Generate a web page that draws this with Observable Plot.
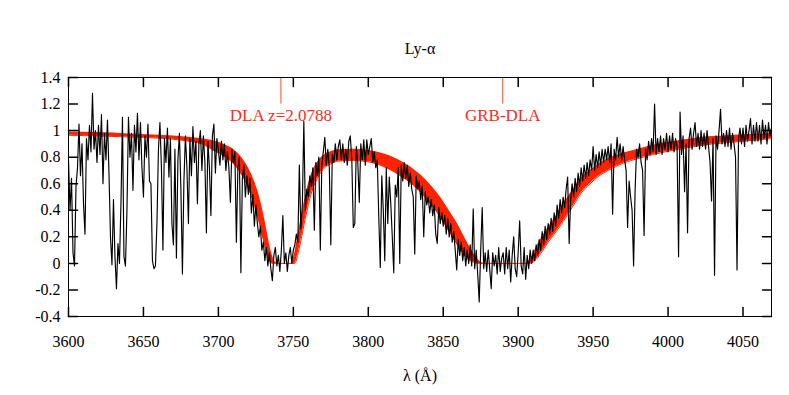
<!DOCTYPE html>
<html><head><meta charset="utf-8">
<script src="https://cdn.jsdelivr.net/npm/d3@7"></script>
<script src="https://cdn.jsdelivr.net/npm/@observablehq/plot@0.6"></script>
<style>html,body{margin:0;padding:0;background:#fff}svg{display:block}svg text{font-family:"Liberation Serif",serif !important}</style>
</head><body><div id="chart"></div>
<script>
// Spectrum: normalised flux sampled every 1 Å starting at 3600 Å
const lambdaStart = 3600;
const lambdaStep = 1;
const flux = [
0.78,0.40,0.64,0.08,-0.02,0.58,0.72,1.05,0.66,0.90,
0.45,0.22,0.94,0.78,1.04,0.84,1.28,0.86,1.00,0.76,
1.04,0.82,1.12,0.60,0.98,0.78,1.08,0.68,0.20,-0.01,
0.48,0.05,-0.19,0.15,0.00,0.45,1.10,0.05,-0.02,0.40,
1.10,0.80,0.98,0.55,1.04,0.84,1.13,0.78,1.06,0.72,
0.50,0.96,0.80,1.05,0.62,0.60,0.02,-0.04,-0.02,0.30,
0.86,1.06,0.72,0.10,0.94,0.76,1.02,0.65,0.94,0.30,
0.14,0.86,0.04,0.78,0.98,0.55,-0.08,0.62,0.96,0.72,
0.30,0.94,0.66,1.03,0.76,0.92,0.45,0.90,1.00,0.70,
0.96,0.76,0.23,0.92,0.72,0.36,0.96,1.05,0.68,0.94,
0.85,0.74,0.92,0.78,0.90,0.70,0.84,0.72,0.46,0.86,
0.76,0.84,0.16,0.72,0.80,-0.07,0.64,0.74,0.50,0.66,
0.52,0.64,0.38,0.52,0.28,0.44,0.30,0.20,0.28,0.10,
0.16,0.02,0.12,-0.02,0.08,-0.04,-0.13,0.06,0.12,-0.02,
0.06,-0.06,0.10,0.36,0.00,0.08,-0.06,0.06,0.12,0.00,
0.10,0.14,0.22,0.16,0.74,0.26,0.44,1.07,0.40,0.56,
0.50,0.66,0.58,0.72,0.25,0.76,0.66,0.80,0.10,0.74,
0.84,0.95,0.74,0.86,0.72,0.14,0.82,0.76,0.90,0.78,
0.88,0.93,0.78,0.90,0.76,0.86,0.74,0.92,0.96,0.78,
0.27,0.30,0.88,0.76,0.46,0.90,0.78,0.93,0.74,0.93,
0.82,0.88,0.94,0.76,0.84,0.72,0.78,0.35,-0.03,0.66,
0.40,0.02,0.72,0.30,0.65,0.45,0.20,-0.07,0.59,0.50,
0.72,0.00,0.74,0.62,0.76,0.64,0.74,0.58,0.68,0.56,
0.50,0.07,0.66,0.56,0.62,0.48,0.58,0.20,0.54,0.44,
0.50,0.38,0.48,0.36,0.44,0.22,0.15,0.42,0.30,0.38,
0.28,0.36,0.22,0.34,0.20,0.30,0.16,0.24,0.10,-0.05,
0.18,0.06,0.16,0.02,0.12,-0.02,0.10,0.00,0.14,-0.02,
0.41,-0.04,0.10,-0.08,-0.29,0.10,0.42,-0.04,0.08,-0.06,
0.10,-0.04,-0.19,0.08,-0.02,0.06,-0.08,0.12,-0.06,0.04,
0.08,-0.08,0.12,-0.04,0.10,-0.14,0.06,0.20,-0.04,-0.10,
0.08,0.32,-0.02,-0.08,0.12,-0.12,0.06,-0.04,0.10,0.00,
0.10,0.02,0.14,0.06,0.18,0.10,0.24,0.14,0.28,0.18,
0.30,0.22,0.34,0.24,0.38,0.28,0.44,0.34,0.48,0.38,
0.50,0.42,0.56,0.65,0.15,0.48,0.60,0.50,0.64,0.54,
0.68,0.58,0.72,0.62,0.74,0.64,0.76,0.66,0.78,0.70,
0.88,0.70,0.82,0.72,0.84,0.74,0.86,0.76,0.86,0.78,
0.88,0.76,0.90,0.37,0.86,0.78,0.95,0.80,0.90,0.78,
0.88,0.78,0.70,0.27,0.62,0.50,0.40,-0.02,0.55,0.86,
0.80,0.90,0.76,0.70,0.21,0.86,0.78,0.92,0.82,0.94,
0.84,1.20,0.82,0.94,0.84,0.96,0.82,0.94,0.86,0.98,
0.84,0.96,0.86,0.98,0.84,0.94,0.88,0.05,1.14,0.82,
0.96,0.54,0.90,0.23,0.94,1.02,0.86,0.98,1.06,0.88,
0.98,0.86,1.00,0.88,0.98,0.86,1.00,0.88,0.76,0.47,
0.94,-0.09,0.96,0.86,1.00,1.16,0.90,0.98,0.88,1.00,
0.88,1.02,0.86,0.98,0.90,0.80,-0.05,0.94,1.02,0.90,
1.02,0.88,1.04,0.92,1.00,1.09,0.90,1.04,0.92,1.06,
0.92,1.04,0.90,1.08,0.94,1.04,0.90,1.06,0.96,1.02
];

// Model band (two DLA fits): upper and lower envelopes
const bandLambda = [3600,3620,3640,3660,3680,3690,3696,3705,3711,3716,3720,3724,3727,3730,3732,3734,3736,3738,3740,3745,3749,3751,3753,3755,3758,3762,3766,3770,3775,3780,3790,3800,3810,3820,3830,3840,3848,3855,3860,3865,3870,3874,3878,3890,3905,3908,3912,3916,3920,3926,3932,3937,3942,3948,3954,3960,3970,3980,3990,4000,4010,4020,4030,4040,4050,4060,4069];
const bandHigh = [0.99,0.985,0.975,0.965,0.95,0.937,0.925,0.89,0.85,0.79,0.72,0.62,0.52,0.38,0.27,0.15,0.06,0.01,0,0,0,0.08,0.21,0.33,0.50,0.67,0.76,0.81,0.84,0.855,0.86,0.85,0.825,0.78,0.71,0.61,0.50,0.38,0.29,0.18,0.08,0.02,0,0,0,0.03,0.12,0.20,0.27,0.37,0.48,0.56,0.64,0.70,0.75,0.79,0.83,0.86,0.89,0.91,0.93,0.945,0.955,0.962,0.968,0.973,0.978];
const bandLow = [0.965,0.96,0.952,0.943,0.92,0.895,0.855,0.80,0.74,0.66,0.57,0.44,0.32,0.18,0.09,0.02,0,0,0,0,0,0,0.07,0.17,0.34,0.53,0.64,0.71,0.75,0.77,0.775,0.765,0.73,0.67,0.59,0.47,0.35,0.22,0.13,0.05,0.01,0,0,0,0,0,0.03,0.09,0.16,0.25,0.35,0.44,0.53,0.60,0.66,0.70,0.755,0.79,0.82,0.845,0.865,0.885,0.90,0.91,0.92,0.93,0.94];

// Absorber markers
const markerLambda = [3741.7, 3889.7];
const markerLabels = ["DLA z=2.0788", "GRB-DLA"];
const markerTop = 1.4;
const markerBottom = 1.2;
const markerLabelY = 1.11;

// Axes
const xDomain = [3600, 4069];
const yDomain = [-0.4, 1.4];
const xTicks = [3600,3650,3700,3750,3800,3850,3900,3950,4000,4050];
const yTicks = [-0.4,-0.2,0,0.2,0.4,0.6,0.8,1,1.2,1.4];
const titleText = "Ly-α";
const xLabelText = "λ (Å)";

const spectrum = flux.map((f, i) => ({lambda: lambdaStart + i * lambdaStep, flux: f}));
const band = bandLambda.map((l, i) => ({lambda: l, hi: bandHigh[i], lo: bandLow[i]}));
const markers = markerLambda.map((l, i) => ({lambda: l, label: markerLabels[i]}));

const tickShape = {draw(ctx, l) { ctx.moveTo(0, 0); ctx.lineTo(0, -l); }};
const RED = "#ff2200";
const FONT = "Liberation Serif";

const chart = Plot.plot({
  width: 789,
  height: 395,
  marginLeft: 68,
  marginRight: 18,
  marginTop: 77,
  marginBottom: 79,
  style: {fontFamily: FONT, fontSize: "16px", background: "#fff", color: "#000"},
  x: {domain: xDomain},
  y: {domain: yDomain},
  marks: [
    Plot.areaY(band, {x: "lambda", y1: "lo", y2: "hi", fill: RED, curve: "monotone-x"}),
    Plot.line(band, {x: "lambda", y: "lo", stroke: RED, strokeWidth: 1, curve: "monotone-x"}),
    Plot.line(spectrum, {x: "lambda", y: "flux", stroke: "#000", strokeWidth: 1.15}),
    Plot.ruleX(markers, {x: "lambda", y1: markerTop, y2: markerBottom, stroke: "#ff4a3a", strokeWidth: 1}),
    Plot.text(markers, {x: "lambda", y: markerLabelY, text: "label", fill: "#ff2a1a", fontSize: 17, fontFamily: FONT}),
    Plot.frame({stroke: "#000", strokeWidth: 1}),
    Plot.vector(xTicks, {x: d => d, frameAnchor: "bottom", length: 9, rotate: 0, anchor: "start", shape: tickShape, stroke: "#000"}),
    Plot.vector(xTicks, {x: d => d, frameAnchor: "top", length: 9, rotate: 180, anchor: "start", shape: tickShape, stroke: "#000"}),
    Plot.vector(yTicks, {y: d => d, frameAnchor: "left", length: 9, rotate: 90, anchor: "start", shape: tickShape, stroke: "#000"}),
    Plot.vector(yTicks, {y: d => d, frameAnchor: "right", length: 9, rotate: -90, anchor: "start", shape: tickShape, stroke: "#000"}),
    Plot.axisX(xTicks, {anchor: "bottom", tickSize: 0, tickPadding: 19, label: null, fontSize: 16, fontFamily: FONT, tickFormat: d => String(d)}),
    Plot.axisY(yTicks, {anchor: "left", tickSize: 0, tickPadding: 8, label: null, fontSize: 16, fontFamily: FONT, tickFormat: d => String(d)}),
    Plot.text([titleText], {frameAnchor: "top", dy: -35, text: d => d, fontSize: 16, fontFamily: FONT}),
    Plot.text([xLabelText], {frameAnchor: "bottom", dy: 64, text: d => d, fontSize: 16, fontFamily: FONT})
  ]
});
document.getElementById("chart").appendChild(chart);
</script>
</body></html>
